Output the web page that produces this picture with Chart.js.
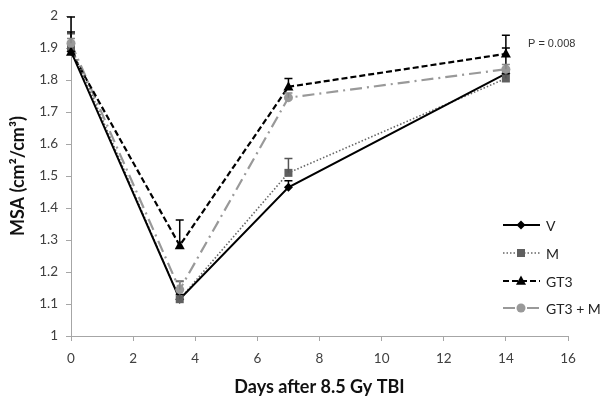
<!DOCTYPE html>
<html>
<head>
<meta charset="utf-8">
<script src="https://cdn.jsdelivr.net/npm/chart.js@4.4.0/dist/chart.umd.min.js"></script>
<style>
  body { margin: 0; background: #fff; }
  #wrap { width: 602px; height: 403px; }
</style>
</head>
<body>
<div id="wrap"><canvas id="msaChart" width="602" height="403"></canvas></div>
<script>
// days after irradiation (x values)
const days = [0, 3.5, 7, 14];
const seriesNames = ['V', 'M', 'GT3', 'GT3 + M'];

// mean MSA per group
const vMean = [1.890, 1.115, 1.465, 1.820];
const mMean = [1.905, 1.115, 1.510, 1.805];
const gt3Mean = [1.888, 1.283, 1.779, 1.882];
const gt3mMean = [1.915, 1.145, 1.745, 1.834];

// upper error bar lengths
const vErr = [0.060, 0.015, 0.020, 0.080];
const mErr = [0.040, 0.055, 0.045, 0.020];
const gt3Err = [0.109, 0.080, 0.026, 0.058];
const gt3mErr = [0.015, 0.028, 0.015, 0.015];

const xTicks = [0, 2, 4, 6, 8, 10, 12, 14, 16];
const pValueText = 'P = 0.008';

const toPoints = (ys) => days.map((d, i) => ({ x: d, y: ys[i] }));

// draw a marker the same way for the plot and the legend
function drawMarker(ctx, style, r, x, y) {
    ctx.beginPath();
    if (style === 'rectRot') {
        ctx.moveTo(x, y - r); ctx.lineTo(x + r, y); ctx.lineTo(x, y + r); ctx.lineTo(x - r, y);
    } else if (style === 'rect') {
        ctx.rect(x - r, y - r, 2 * r, 2 * r);
    } else if (style === 'triangle') {
        ctx.moveTo(x, y - r * 1.1); ctx.lineTo(x + r, y + r * 0.75); ctx.lineTo(x - r, y + r * 0.75);
    } else {
        ctx.arc(x, y, r, 0, Math.PI * 2);
    }
    ctx.closePath();
    ctx.fill();
}

// markers and upper error bars with caps
const marksAndErrors = {
    id: 'marksAndErrors',
    afterDatasetsDraw(chart) {
        const ctx = chart.ctx;
        const xs = chart.scales.x, ys = chart.scales.y;
        ctx.save();
        chart.data.datasets.forEach((ds, i) => {
            const meta = chart.getDatasetMeta(i);
            ctx.fillStyle = ds.markerColor;
            meta.data.forEach(pt => drawMarker(ctx, ds.markerStyle, ds.markerRadius, pt.x, pt.y));
            ctx.strokeStyle = ds.errColor;
            ctx.lineWidth = 1.5;
            ctx.setLineDash([]);
            ds.errors.forEach((e, j) => {
                const px = xs.getPixelForValue(days[j]);
                const y0 = ys.getPixelForValue(ds.data[j].y);
                const y1 = ys.getPixelForValue(ds.data[j].y + e);
                ctx.beginPath();
                ctx.moveTo(px, y0); ctx.lineTo(px, y1);
                ctx.moveTo(px - 4, y1); ctx.lineTo(px + 4, y1);
                ctx.stroke();
            });
        });
        ctx.restore();
    }
};

// legend inside the plot, lower right, plus the p value note
const sideLegend = {
    id: 'sideLegend',
    afterDraw(chart) {
        const ctx = chart.ctx;
        const rows = [225, 253, 281, 308];
        ctx.save();
        chart.data.datasets.forEach((ds, i) => {
            const y = rows[i];
            ctx.strokeStyle = ds.borderColor;
            ctx.lineWidth = ds.borderWidth;
            ctx.setLineDash(ds.borderDash || []);
            ctx.beginPath();
            ctx.moveTo(503, y); ctx.lineTo(540, y);
            ctx.stroke();
            ctx.setLineDash([]);
            ctx.fillStyle = ds.markerColor;
            drawMarker(ctx, ds.markerStyle, ds.markerRadius, 521, y);
            ctx.fillStyle = '#222';
            ctx.font = '14px Lato';
            ctx.textBaseline = 'middle';
            ctx.textAlign = 'left';
            ctx.fillText(ds.label, 546, y + 1);
        });
        ctx.font = '11px "Liberation Sans"';
        ctx.fillStyle = '#333';
        ctx.textBaseline = 'middle';
        ctx.fillText(pValueText, 528, 44);
        ctx.restore();
    }
};

const datasets = [
    { label: seriesNames[0], data: toPoints(vMean), errors: vErr, errColor: '#000',
      borderColor: '#000', borderWidth: 2, borderDash: [],
      markerStyle: 'rectRot', markerRadius: 4.5, markerColor: '#000' },
    { label: seriesNames[1], data: toPoints(mMean), errors: mErr, errColor: '#555',
      borderColor: '#666', borderWidth: 1.6, borderDash: [1.5, 2],
      markerStyle: 'rect', markerRadius: 4, markerColor: '#5f5f5f' },
    { label: seriesNames[2], data: toPoints(gt3Mean), errors: gt3Err, errColor: '#000',
      borderColor: '#000', borderWidth: 2.2, borderDash: [6, 3],
      markerStyle: 'triangle', markerRadius: 5, markerColor: '#000' },
    { label: seriesNames[3], data: toPoints(gt3mMean), errors: gt3mErr, errColor: '#888',
      borderColor: '#999', borderWidth: 2.2, borderDash: [12, 5, 2, 5],
      markerStyle: 'circle', markerRadius: 4.5, markerColor: '#999' }
];

const axisGray = '#a6a6a6';

new Chart(document.getElementById('msaChart'), {
    type: 'line',
    data: {
        datasets: datasets.map(d => Object.assign({}, d, {
            fill: false, tension: 0, pointRadius: 0, pointHoverRadius: 0
        }))
    },
    options: {
        responsive: false,
        animation: false,
        events: [],
        layout: { autoPadding: false, padding: { top: 16, right: 34, left: 0, bottom: 0 } },
        plugins: { legend: { display: false }, tooltip: { enabled: false } },
        scales: {
            x: {
                type: 'linear', min: 0, max: 16,
                afterFit: s => { s.height = 67; },
                afterBuildTicks: s => { s.ticks = xTicks.map(v => ({ value: v })); },
                grid: { drawOnChartArea: false, drawTicks: true, tickLength: 5, color: axisGray },
                border: { color: axisGray, width: 1 },
                ticks: { color: '#404040', font: { family: 'Lato', size: 13.5 }, padding: 10, maxRotation: 0 },
                title: { display: true, text: 'Days after 8.5 Gy TBI', color: '#111',
                         font: { family: 'Lato', size: 18, weight: 'bold' }, padding: { top: 0, bottom: 5 } }
            },
            y: {
                min: 1, max: 2,
                afterFit: s => { s.width = 71; },
                grid: { drawOnChartArea: false, drawTicks: true, tickLength: 5, color: axisGray },
                border: { color: axisGray, width: 1 },
                ticks: { stepSize: 0.1, color: '#404040', font: { family: 'Lato', size: 13.5 }, padding: 8,
                         callback: v => String(Math.round(v * 10) / 10) },
                title: { display: true, text: 'MSA (cm²/cm³)', color: '#111',
                         font: { family: 'Lato', size: 18, weight: 'bold' }, padding: { top: 7, bottom: 0 } }
            }
        }
    },
    plugins: [marksAndErrors, sideLegend]
});
</script>
</body>
</html>
